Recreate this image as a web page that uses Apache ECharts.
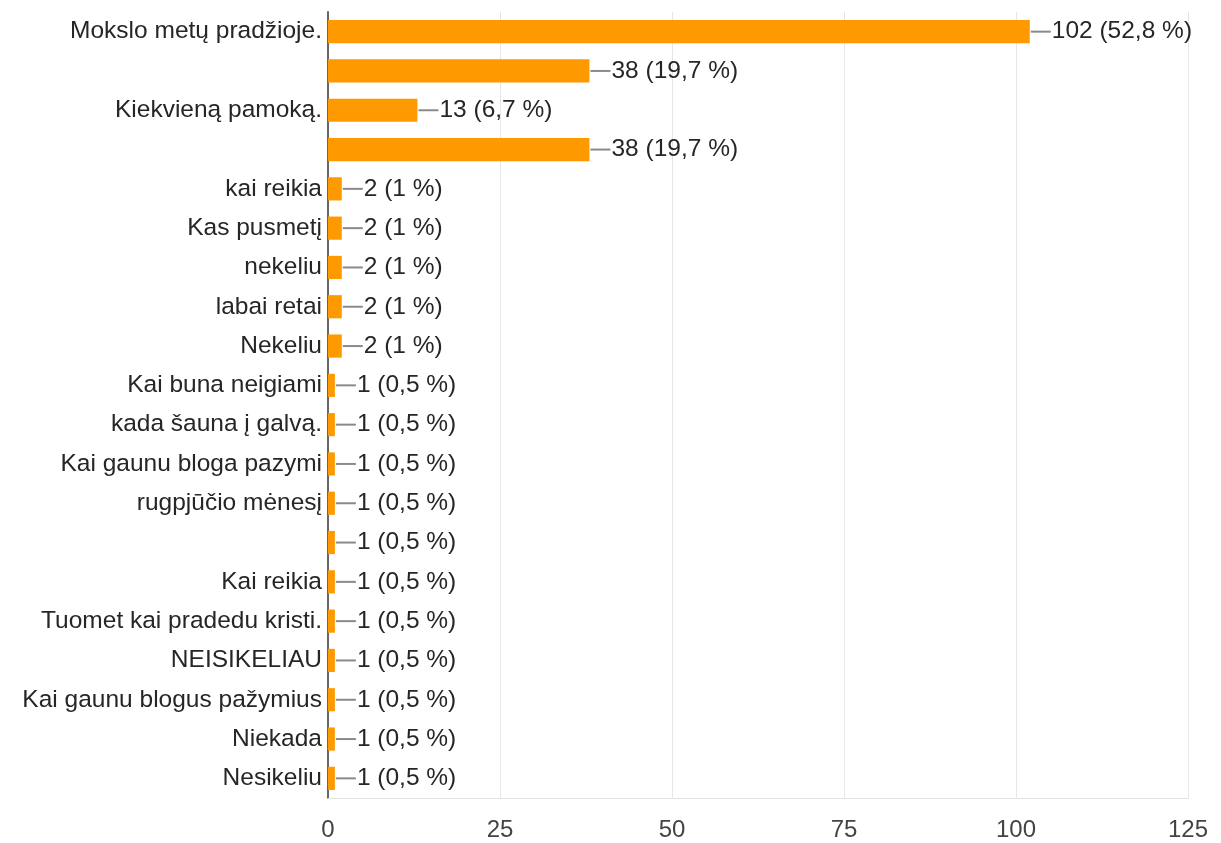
<!DOCTYPE html>
<html>
<head>
<meta charset="utf-8">
<script src="https://cdn.jsdelivr.net/npm/echarts@6/dist/echarts.min.js"></script>
<style>html,body{margin:0;padding:0;background:#fff}#c{width:1221px;height:843px}</style>
</head>
<body>
<div id="c"></div>
<script>
const categories = [
  'Mokslo metų pradžioje.', '', 'Kiekvieną pamoką.', '', 'kai reikia', 'Kas pusmetį',
  'nekeliu', 'labai retai', 'Nekeliu', 'Kai buna neigiami', 'kada šauna į galvą.',
  'Kai gaunu bloga pazymi', 'rugpjūčio mėnesį', '', 'Kai reikia',
  'Tuomet kai pradedu kristi.', 'NEISIKELIAU', 'Kai gaunu blogus pažymius', 'Niekada', 'Nesikeliu'
];
const values = [102, 38, 13, 38, 2, 2, 2, 2, 2, 1, 1, 1, 1, 1, 1, 1, 1, 1, 1, 1];
const percents = ['52,8 %', '19,7 %', '6,7 %', '19,7 %', '1 %', '1 %', '1 %', '1 %', '1 %',
  '0,5 %', '0,5 %', '0,5 %', '0,5 %', '0,5 %', '0,5 %', '0,5 %', '0,5 %', '0,5 %', '0,5 %', '0,5 %'];
const xTicks = [0, 25, 50, 75, 100, 125];

const FONT = 'Liberation Sans, Arial, sans-serif';
const chart = echarts.init(document.getElementById('c'));
chart.setOption({
  animation: false,
  backgroundColor: '#fff',
  grid: { left: 328, right: 33, top: 12, bottom: 45, containLabel: false },
  xAxis: {
    type: 'value',
    min: xTicks[0], max: xTicks[xTicks.length - 1], interval: xTicks[1] - xTicks[0],
    axisLine: { show: true, lineStyle: { color: '#e2e2e2', width: 1 } },
    axisTick: { show: false },
    axisLabel: { color: '#444', fontSize: 24, fontFamily: FONT, margin: 20 },
    splitLine: { show: true, lineStyle: { color: '#e6e6e6', width: 1 } }
  },
  yAxis: {
    type: 'category',
    inverse: true,
    data: categories,
    axisLine: { show: true, onZero: false, lineStyle: { color: '#666', width: 2 } },
    axisTick: { show: false },
    axisLabel: { color: '#262626', fontSize: 24.5, fontFamily: FONT, margin: 6, interval: 0 },
    splitLine: { show: false }
  },
  series: [{
    type: 'bar',
    data: values,
    barCategoryGap: '41%',
    itemStyle: { color: '#ff9900' },
    label: {
      show: true,
      position: 'right',
      distance: 1,
      formatter: (p) => '{l|}{t|' + values[p.dataIndex] + ' (' + percents[p.dataIndex] + ')}',
      rich: {
        l: { width: 20, height: 2, backgroundColor: '#8a8a8a', verticalAlign: 'middle' },
        t: { fontSize: 24.5, fontFamily: FONT, color: '#262626', padding: [0, 0, 0, 1], verticalAlign: 'middle' }
      }
    }
  }]
});
</script>
</body>
</html>
